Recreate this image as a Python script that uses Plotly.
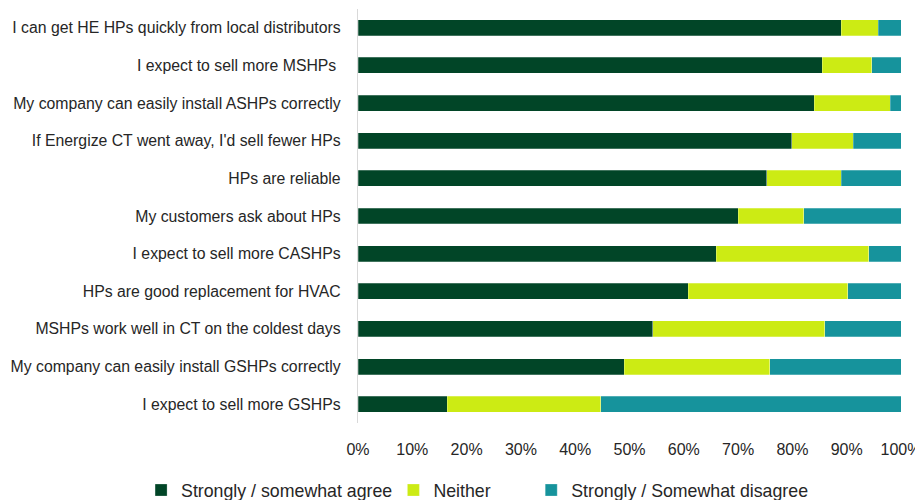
import plotly.graph_objects as go

categories = [
    "I can get HE HPs quickly from local distributors",
    "I expect to sell more MSHPs ",
    "My company can easily install ASHPs correctly",
    "If Energize CT went away, I'd sell fewer HPs",
    "HPs are reliable",
    "My customers ask about HPs",
    "I expect to sell more CASHPs",
    "HPs are good replacement for HVAC",
    "MSHPs work well in CT on the coldest days",
    "My company can easily install GSHPs correctly",
    "I expect to sell more GSHPs",
]
agree = [89.0, 85.5, 84.0, 79.9, 75.3, 70.0, 66.0, 60.8, 54.3, 49.0, 16.4]
neither = [6.8, 9.1, 14.0, 11.3, 13.7, 12.1, 28.1, 29.4, 31.7, 26.8, 28.3]
disagree = [4.2, 5.4, 2.0, 8.8, 11.0, 17.9, 5.9, 9.8, 14.0, 24.2, 55.3]
series_names = ["Strongly / somewhat agree", "Neither", "Strongly / Somewhat disagree"]
colors = ["#014527", "#CCEB14", "#16939C"]
tick_vals = [0, 10, 20, 30, 40, 50, 60, 70, 80, 90, 100]
tick_text = [f"{v}%" for v in tick_vals]

font_family = "Liberation Sans, Arial, sans-serif"
legend_ids = ["legend", "legend2", "legend3"]
legend_x = [-0.3995, 0.0652, 0.319]

fig = go.Figure()
for name, vals, col, lid in zip(series_names, [agree, neither, disagree], colors, legend_ids):
    fig.add_trace(go.Bar(
        y=categories, x=vals, name=name, orientation="h", legend=lid,
        marker=dict(color=col, line=dict(color="rgba(255,255,255,0.5)", width=0.5)),
    ))

legend_common = dict(orientation="h", xanchor="left", y=-0.163, yanchor="middle",
                     font=dict(size=17.75, color="#262626"), bgcolor="rgba(0,0,0,0)")

fig.update_layout(
    barmode="stack",
    bargap=0.576,
    width=915, height=492,
    margin=dict(l=349.5, r=22, t=1, b=76.5, autoexpand=False),
    plot_bgcolor="white", paper_bgcolor="white",
    font=dict(family=font_family, size=15.8, color="#262626"),
    showlegend=True,
    legend=dict(x=legend_x[0], **legend_common),
    legend2=dict(x=legend_x[1], **legend_common),
    legend3=dict(x=legend_x[2], **legend_common),
    xaxis=dict(range=[0, 100], tickvals=tick_vals, ticktext=tick_text, showgrid=False,
               zeroline=False, showline=False, tickfont=dict(size=16), ticks="",
               automargin=False, ticklabelstandoff=15),
    yaxis=dict(autorange="reversed", showline=True, linecolor="#D9D9D9", linewidth=1,
               ticks="", showgrid=False, tickfont=dict(size=15.8), ticksuffix="   ",
               automargin=False),
)

fig.write_html("out.html")
